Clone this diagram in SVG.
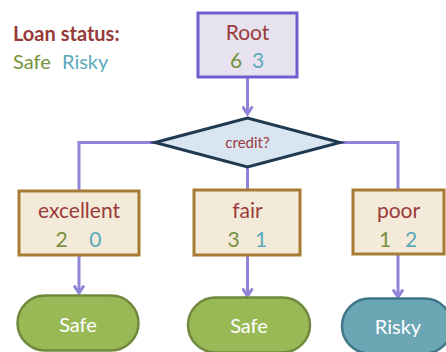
<svg xmlns="http://www.w3.org/2000/svg" width="446" height="352" viewBox="0 0 446 352">
<style>
text{font-family:Lato,"Open Sans","Liberation Sans",sans-serif;text-anchor:middle}
.lbl{fill:#9b3b3b;font-size:21px}
.safe{fill:#76923c}
.risky{fill:#5aaabb}
.num{font-size:21px}
.conn{fill:none;stroke:#8f84d9;stroke-width:3}
.box{fill:#f4ead9;stroke:#a67c35;stroke-width:3}
.leaf{font-size:20px;fill:#ffffff}
</style>
<defs>
<marker id="arr" viewBox="0 0 10 12" refX="8.5" refY="6" markerWidth="10" markerHeight="12" markerUnits="userSpaceOnUse" orient="auto">
<path d="M1,1 L8.5,6 L1,11" fill="none" stroke="#8f84d9" stroke-width="3" stroke-linejoin="miter"/>
</marker>
</defs>
<g id="legend">
<text x="13" y="41" style="text-anchor:start;font-weight:bold;font-size:20px;fill:#943a38">Loan status:</text>
<text x="13" y="69" class="safe" style="text-anchor:start;font-size:20px">Safe</text>
<text x="62" y="69" class="risky" style="text-anchor:start;font-size:20px">Risky</text>
</g>
<g id="connectors">
<path class="conn" d="M247.5,77 V114" marker-end="url(#arr)"/>
<path class="conn" d="M155,142.5 H79 V190"/>
<path class="conn" d="M247.5,167 V190"/>
<path class="conn" d="M340,142.5 H398 V190"/>
<path class="conn" d="M79,255 V293" marker-end="url(#arr)"/>
<path class="conn" d="M247.5,255 V296" marker-end="url(#arr)"/>
<path class="conn" d="M398,254 V297" marker-end="url(#arr)"/>
</g>
<g id="root">
<rect x="198" y="13" width="99" height="64" fill="#e7e2ef" stroke="#6e5fcf" stroke-width="3"/>
<text x="247.5" y="40" class="lbl">Root</text>
<text x="236" y="68" class="num safe">6</text>
<text x="258" y="68" class="num risky">3</text>
</g>
<g id="credit">
<polygon points="155,142.5 247.5,118 340,142.5 247.5,167" fill="#d9e5f1" stroke="#1f3a50" stroke-width="3" stroke-linejoin="miter"/>
<text x="247.5" y="148" style="font-size:15px;fill:#9b3b3b">credit?</text>
</g>
<g id="excellent">
<rect x="19" y="191" width="120" height="64" class="box"/>
<text x="79" y="218" class="lbl">excellent</text>
<text x="61.7" y="247" class="num safe">2</text>
<text x="95.3" y="247" class="num risky">0</text>
</g>
<g id="fair">
<rect x="194" y="190" width="106" height="65" class="box"/>
<text x="247.5" y="218" class="lbl">fair</text>
<text x="233.5" y="247" class="num safe">3</text>
<text x="261" y="247" class="num risky">1</text>
</g>
<g id="poor">
<rect x="353" y="190" width="91" height="64" class="box"/>
<text x="398.5" y="218" class="lbl">poor</text>
<text x="385" y="247" class="num safe">1</text>
<text x="411" y="247" class="num risky">2</text>
</g>
<g id="leaf-safe-1">
<rect x="17.5" y="295.5" width="121" height="55" rx="27.5" fill="#99b957" stroke="#71893e" stroke-width="2.5"/>
<text x="78" y="332" class="leaf">Safe</text>
</g>
<g id="leaf-safe-2">
<rect x="188" y="297.5" width="122" height="55" rx="27.5" fill="#99b957" stroke="#71893e" stroke-width="2.5"/>
<text x="249" y="333" class="leaf">Safe</text>
</g>
<g id="leaf-risky">
<rect x="342" y="298.5" width="110" height="55" rx="27.5" fill="#6aa6b4" stroke="#3f7688" stroke-width="2.5"/>
<text x="398" y="334" class="leaf">Risky</text>
</g>
</svg>
